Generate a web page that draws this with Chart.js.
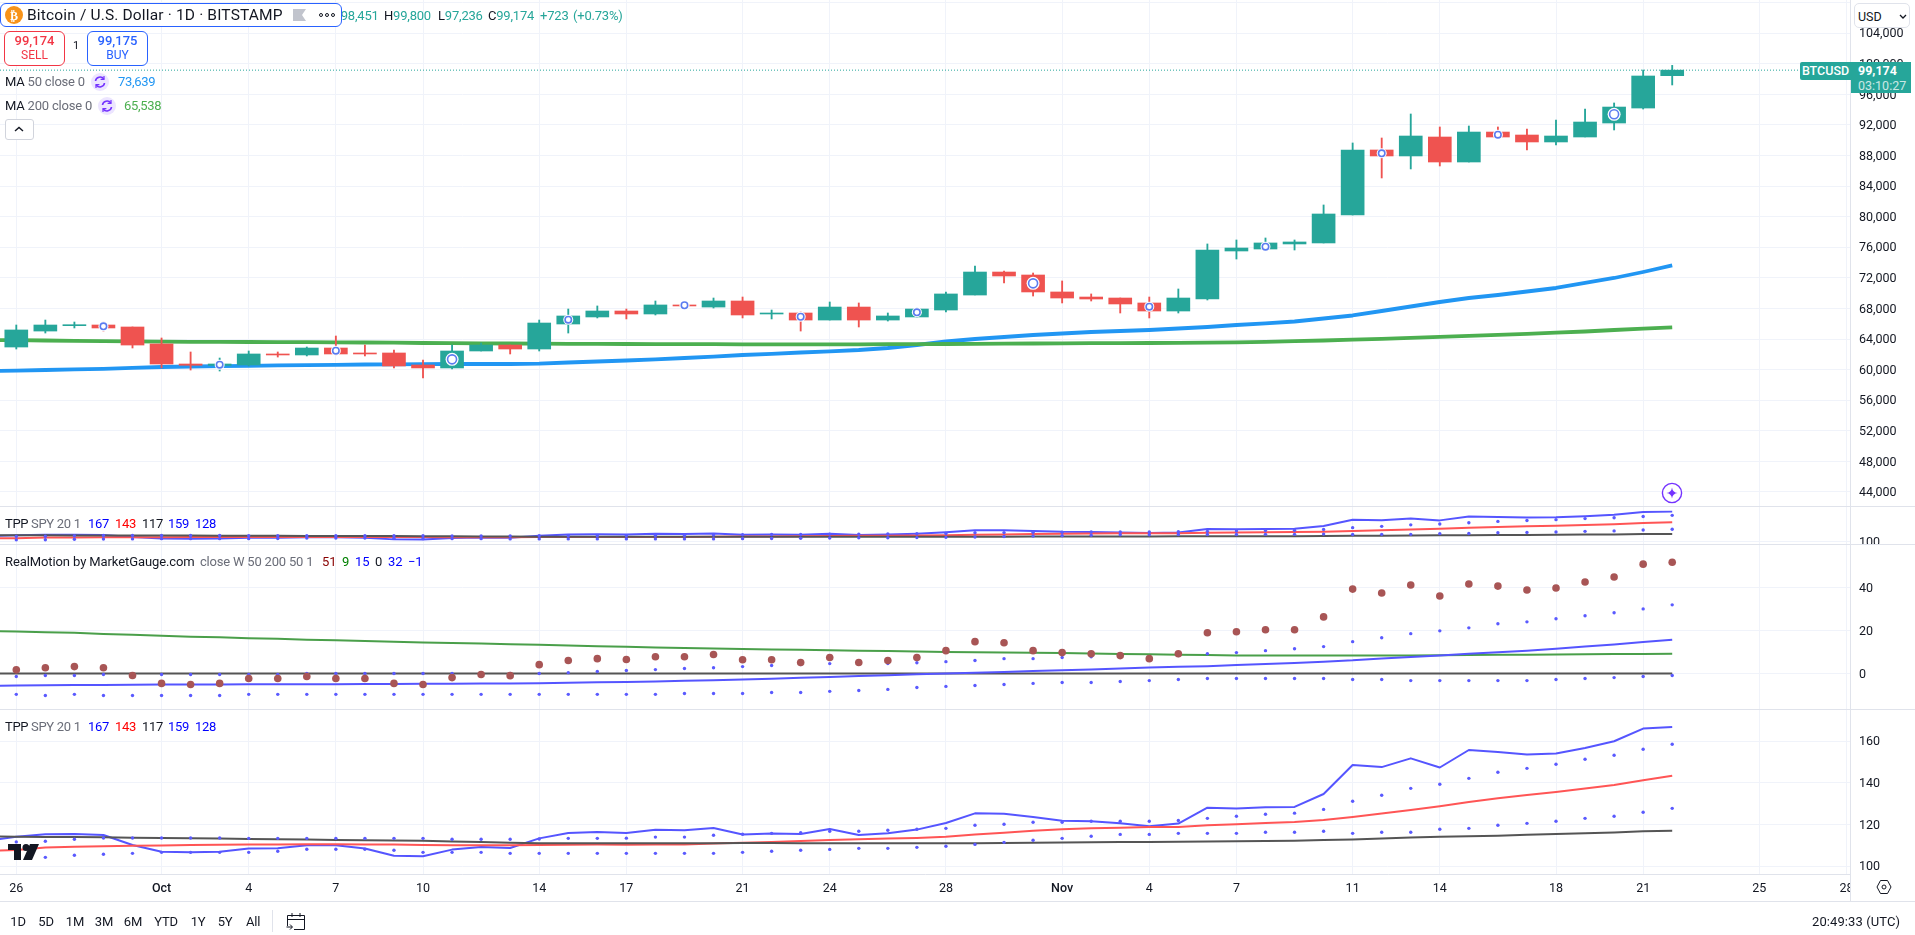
<!DOCTYPE html>
<html>
<head>
<meta charset="utf-8">
<title>BTCUSD</title>
<script src="https://cdn.jsdelivr.net/npm/chart.js@4"></script>
<style>
  html, body { margin: 0; padding: 0; background: #fff; overflow: hidden; }
  body { width: 1915px; height: 935px; position: relative; font: 13px Roboto, sans-serif; color: #131722; }
  canvas { position: absolute; left: 0; }
  .abs { position: absolute; white-space: nowrap; }
  .sep { position: absolute; left: 0; width: 1915px; height: 1px; background: #e0e3eb; }
  .grey { color: #6a6d78; }
  .teal { color: #26a69a; }
  .leg { position: absolute; white-space: nowrap; line-height: 16px; letter-spacing: -.3px; }
  .leg span { position: absolute; top: 0; }
  .ohlc { position: absolute; top: 8px; line-height: 16px; letter-spacing: -.2px; white-space: nowrap; }
  .range span { position: absolute; top: 0; transform: translateX(-50%); }
</style>
</head>
<body>
<canvas id="pricePane" width="1915" height="506" style="top:0"></canvas>
<canvas id="tppSmallPane" width="1915" height="37" style="top:507px"></canvas>
<canvas id="motionPane" width="1915" height="164" style="top:545px"></canvas>
<canvas id="tppPane" width="1915" height="191" style="top:710px"></canvas>

<div class="sep" style="top:506px"></div>
<div class="sep" style="top:544px"></div>
<div class="sep" style="top:709px"></div>
<div class="sep" style="top:901px"></div>

<!-- symbol header -->
<div class="ohlc" style="left:332px">O<span class="teal">98,451</span></div>
<div class="ohlc" style="left:384px">H<span class="teal">99,800</span></div>
<div class="ohlc" style="left:438px">L<span class="teal">97,236</span></div>
<div class="ohlc" style="left:488px">C<span class="teal">99,174</span></div>
<div class="ohlc teal" style="left:540px">+723</div>
<div class="ohlc teal" style="left:573px">(+0.73%)</div>
<div class="abs" style="left:0;top:3px;width:340px;height:22px;border:1px solid #2962ff;border-radius:6px;background:#fff"></div>
<svg class="abs" style="left:5px;top:6px" width="18" height="18"><circle cx="9" cy="9" r="9" fill="#f7931a"/><text x="9" y="13.5" text-anchor="middle" fill="#fff" font-size="12" font-weight="700" font-family="DejaVu Sans">₿</text></svg>
<div class="abs" style="left:27px;top:5px;font-size:15.5px;line-height:20px;letter-spacing:.16px">Bitcoin / U.S. Dollar · 1D · BITSTAMP</div>
<svg class="abs" style="left:293px;top:9px" width="13" height="12"><path d="M0 0H13L9 6L13 12H0Z" fill="#c1c4cd"/></svg>
<svg class="abs" style="left:318px;top:12px" width="18" height="6" fill="none" stroke="#131722"><circle cx="3" cy="3" r="1.5"/><circle cx="9" cy="3" r="1.5"/><circle cx="15" cy="3" r="1.5"/></svg>

<div class="abs" style="left:4px;top:31px;width:59px;height:32px;border:1px solid #f23645;border-radius:6px;background:#fff;color:#f23645;text-align:center;line-height:15px;padding-top:1px">
  <div style="font-weight:500">99,174</div><div style="font-size:12px">SELL</div>
</div>
<div class="abs" style="left:73px;top:39px;font-size:11px">1</div>
<div class="abs" style="left:87px;top:31px;width:59px;height:32px;border:1px solid #2962ff;border-radius:6px;background:#fff;color:#2962ff;text-align:center;line-height:15px;padding-top:1px">
  <div style="font-weight:500">99,175</div><div style="font-size:12px">BUY</div>
</div>

<!-- indicator rows -->
<div class="abs" style="left:5px;top:74px;line-height:16px;letter-spacing:-.2px">MA <span class="grey">50 close 0</span></div>
<svg class="abs" style="left:91px;top:73px" width="18" height="18" fill="none" stroke="#7433ff" stroke-width="1.6"><circle cx="9" cy="9" r="9" fill="#ece5ff" stroke="none"/><path d="M4.5 8a4.6 4.6 0 0 1 8.3-2M13.5 10a4.6 4.6 0 0 1-8.3 2"/><path d="M13 3v3.4H9.6M5 15v-3.4H8.4" stroke-width="1.2"/></svg>
<div class="abs" style="left:118px;top:74px;line-height:16px;letter-spacing:-.3px;color:#2196f3">73,639</div>
<div class="abs" style="left:5px;top:98px;line-height:16px;letter-spacing:-.2px">MA <span class="grey">200 close 0</span></div>
<svg class="abs" style="left:98px;top:97px" width="18" height="18" fill="none" stroke="#7433ff" stroke-width="1.6"><circle cx="9" cy="9" r="9" fill="#ece5ff" stroke="none"/><path d="M4.5 8a4.6 4.6 0 0 1 8.3-2M13.5 10a4.6 4.6 0 0 1-8.3 2"/><path d="M13 3v3.4H9.6M5 15v-3.4H8.4" stroke-width="1.2"/></svg>
<div class="abs" style="left:124px;top:98px;line-height:16px;letter-spacing:-.3px;color:#4caf50">65,538</div>
<div class="abs" style="left:5px;top:119px;width:27px;height:19px;border:1px solid #d1d4dc;border-radius:3px;background:#fff"></div>
<svg class="abs" style="left:14px;top:126px" width="10" height="6" fill="none" stroke="#131722" stroke-width="1.4"><path d="M1 5L5 1.5L9 5"/></svg>

<!-- right axis overlays -->
<div class="abs" style="left:1851px;top:0;width:64px;height:28px;background:#fff"></div>
<div class="abs" style="left:1854px;top:3px;width:56px;height:25px;border:1px solid #e0e3eb;border-radius:5px;background:#fff;line-height:25px;padding-left:3px;box-sizing:border-box;font-size:12.5px">USD</div>
<svg class="abs" style="left:1899px;top:14px" width="8" height="5" fill="none" stroke="#131722" stroke-width="1.3"><path d="M1 1L4 4L7 1"/></svg>
<div class="abs" style="left:1800px;top:62px;width:51px;height:18px;background:#26a69a;color:#fff;text-align:center;line-height:18px;font-size:12.5px;font-weight:500;border-radius:2px 0 0 2px">BTCUSD</div>
<div class="abs" style="left:1851px;top:62px;width:60px;height:31px;background:#26a69a;color:#fff;text-align:left;padding-left:7px;box-sizing:border-box;line-height:15px;padding-top:1px;font-size:12.5px">
  <div style="font-weight:700">99,174</div><div style="opacity:.75">03:10:27</div>
</div>
<svg class="abs" style="left:1661px;top:482px" width="22" height="22"><circle cx="11" cy="11" r="9.6" fill="#fff" stroke="#7433ff" stroke-width="1.4"/><path d="M11 5.5Q11.6 10.4 16.5 11Q11.6 11.6 11 16.5Q10.4 11.6 5.5 11Q10.4 10.4 11 5.5Z" fill="#7433ff"/></svg>

<!-- pane legends -->
<div class="leg" style="left:5px;top:516px">TPP
  <span class="grey" style="left:26px">SPY 20 1</span>
  <span style="left:83px;color:#0000ff">167</span><span style="left:110px;color:#ff0000">143</span><span style="left:137px">117</span><span style="left:163px;color:#0000ff">159</span><span style="left:190px;color:#0000ff">128</span>
</div>
<div class="leg" style="left:5px;top:554px;letter-spacing:-.1px">RealMotion by MarketGauge.com
  <span class="grey" style="left:195px;letter-spacing:-.2px">close W 50 200 50 1</span>
  <span style="left:317px;color:#880000">51</span><span style="left:337px;color:#008000">9</span><span style="left:350px;color:#0000ff">15</span><span style="left:370px">0</span><span style="left:383px;color:#0000ff">32</span><span style="left:403px;color:#0000ff">−1</span>
</div>
<div class="leg" style="left:5px;top:719px">TPP
  <span class="grey" style="left:26px">SPY 20 1</span>
  <span style="left:83px;color:#0000ff">167</span><span style="left:110px;color:#ff0000">143</span><span style="left:137px">117</span><span style="left:163px;color:#0000ff">159</span><span style="left:190px;color:#0000ff">128</span>
</div>
<svg class="abs" style="left:8px;top:844px" width="31" height="16" fill="#131722"><path d="M0 0H13V16H6V6H0Z"/><circle cx="18" cy="3.5" r="3.5"/><path d="M22 0H31L24 16H15Z"/></svg>

<!-- corner of the time axis, hides the clipped label like the reference -->
<div class="abs" style="left:1851px;top:874px;width:64px;height:27px;background:#fff"></div>
<div class="abs" style="left:1850px;top:874px;width:1px;height:27px;background:#e0e3eb"></div>
<svg class="abs" style="left:1876px;top:879px" width="16" height="16" fill="none" stroke="#131722"><path d="M4.5 1.5H11.5L15 8L11.5 14.5H4.5L1 8Z"/><circle cx="8" cy="8" r="2"/></svg>

<!-- bottom bar -->
<div class="range abs" style="left:0;top:914px;width:300px;height:16px;line-height:16px;letter-spacing:-.2px">
  <span style="left:18px">1D</span><span style="left:46px">5D</span><span style="left:75px">1M</span><span style="left:104px">3M</span><span style="left:133px">6M</span><span style="left:166px">YTD</span><span style="left:198px">1Y</span><span style="left:225px">5Y</span><span style="left:253px">All</span>
</div>
<div class="abs" style="left:272px;top:910px;width:1px;height:22px;background:#e0e3eb"></div>
<svg class="abs" style="left:286px;top:912px" width="20" height="19" fill="none" stroke="#131722"><path d="M1.5 14V3.5H18.5V17.5H8M1.5 7.5H18.5M6 1V5M14 1V5"/><path d="M0.5 15H6M4 12.5L6.5 15L4 17.5"/></svg>
<div class="abs" style="left:1812px;top:914px;line-height:16px;letter-spacing:.1px">20:49:33 (UTC)</div>

<script>
// bars run from Sep 26 (index 0) to Nov 22 (index 57)
const opens  = [62960,65050,65750,65840,65580,63360,60740,60550,60610,62050,61920,62830,62180,62180,60610,60220,62440,63220,62700,65970,66890,67670,67280,68460,68190,68980,67280,67410,66490,68190,66490,66890,67800,69760,72770,72380,70160,69500,69370,68720,67670,69240,75520,75780,76440,76570,80230,88730,87950,90430,87160,91080,90690,89780,90430,92260,94220,98451];
const highs  = [65840,66490,66230,66230,65580,64140,62310,61520,62440,62310,62960,64400,63220,62570,61260,63220,63480,63220,66490,67930,68330,67930,68980,68720,69370,69500,67800,67540,68850,68720,67410,68060,70160,73560,72900,72640,71600,69900,69370,69500,70550,76440,76960,77220,76960,81540,89650,90300,93440,91740,91870,91740,91480,92650,94090,94880,99190,99800];
const lows   = [62700,64790,65450,65050,62830,60220,59950,59820,60480,61650,61790,61920,61790,60220,58910,60090,62440,62050,62440,64790,66760,66630,67150,68060,68060,66760,66630,65050,66490,65580,66360,66890,67540,69760,71330,69630,68720,68980,67410,66760,67410,69110,74470,75650,75650,76570,80230,85070,86250,86640,87160,90300,88730,89380,90430,91350,94090,97236];
const closes = [65190,65840,65880,65450,63220,60740,60570,60740,62050,61920,62830,62050,62050,60480,60220,62440,63220,62700,66100,67020,67670,67280,68460,68330,68980,67150,67410,66490,68190,66490,67020,67930,69900,72770,72250,70160,69370,69240,68590,67670,69370,75650,75910,76570,76700,80360,88730,87950,90560,87160,91080,90430,89780,90560,92390,94350,98410,99174];

// line series start one bar earlier (index -1), off the left edge
const ma50  = [59797,59875,59954,60032,60111,60241,60346,60412,60451,60503,60555,60595,60634,60673,60699,60725,60739,60739,60739,60778,60935,61066,61197,61354,61524,61707,61916,62073,62243,62400,62570,62832,63224,63682,64009,64270,64532,64729,64924,65055,65186,65382,65578,65840,66040,66298,66690,67083,67671,68260,68848,69372,69764,70222,70680,71334,71988,72772,73639];
const ma200 = [63878,63852,63813,63773,63734,63695,63656,63643,63630,63617,63604,63590,63577,63551,63525,63486,63460,63434,63421,63394,63381,63368,63355,63342,63329,63329,63316,63316,63316,63316,63316,63329,63342,63355,63381,63394,63421,63447,63460,63473,63486,63499,63525,63577,63643,63721,63813,63918,64035,64166,64297,64428,64559,64690,64847,64990,65186,65356,65538];

const tppHigh = [112.2,114.2,115.4,115.5,115.0,110.2,107.0,106.7,107.0,108.5,108.6,110.1,110.1,108.5,105.1,104.8,108.0,109.3,108.8,113.4,116.0,116.5,116.0,117.5,117.3,118.4,115.3,115.7,115.5,117.9,115.0,115.8,117.6,120.8,125.4,125.2,123.7,121.9,121.6,120.6,119.2,120.5,128.1,127.7,128.3,128.5,134.7,148.6,147.6,151.8,147.4,155.8,154.9,153.6,154.1,156.8,160,166.1,166.9];
const tppMid  = [107.4,107.8,109,109.4,109.6,109.9,110,110.2,110.3,110.4,110.5,110.6,110.6,110.5,110.4,110.2,110.1,110.1,110.1,110.2,110.3,110.4,110.3,110.4,110.5,110.9,111.3,111.7,112.1,112.6,113,113.3,113.6,114.2,115.2,116.1,117,117.8,118.2,118.5,118.9,118.9,119.7,120.2,120.8,121.3,122.2,123.7,125.3,127,128.8,130.9,132.6,134.2,135.7,137.3,139,141.3,143.5];
const tppLow  = [114.3,114.2,114.1,114,113.9,113.7,113.6,113.5,113.3,113.1,113,112.8,112.6,112.5,112.4,112.2,111.9,111.6,111.3,111,111,111,111,111,111,111.1,111.2,111.2,111.1,111.1,111.1,111.1,111.1,111.1,111.1,111.2,111.3,111.4,111.5,111.6,111.7,111.8,111.9,112,112.1,112.2,112.6,112.9,113.3,113.8,114.2,114.4,114.7,115.1,115.5,115.8,116.2,116.8,117];
// dotted bands start at index 0
const tppDotsUp = [111.7,112,113,113.6,113.6,113.6,113.6,113.6,113.4,113.4,113.4,113.4,113.4,113.4,113.4,113,113,113,113.1,113.4,113.4,113.5,114,114,114.9,115.4,115.8,116.1,116.8,116.8,117.3,117.8,118.2,119.7,120.2,121.1,121.1,121.6,121.6,121.6,122,123,124,125,125.5,127.3,131.2,134.1,137.4,139.4,142.2,145.1,147,149,151.4,153.3,156.2,158.6];
const tppDotsDn = [104,104.3,105.3,105.8,106.2,106.7,106.7,106.7,106.7,107.2,108.2,108.2,108.2,107.7,106.7,106.7,106.7,106.2,106.2,106.2,106.2,106.2,106.2,106.2,106.2,106.7,107.2,107.7,108.1,108.6,108.6,109.1,109.6,110.5,111.5,112.5,113.4,114.4,115.3,115.3,115.8,115.8,115.8,116.3,116.3,116.8,115.8,116.3,116.3,117.8,118.2,119.7,120.6,121.6,123,124,125.9,127.8];

const rmGreen = [19.7,19.5,19.2,18.9,18.4,18,17.5,17.1,16.8,16.4,16.1,15.7,15.4,15.1,14.7,14.4,14.2,13.9,13.6,13.4,13,12.7,12.4,12.1,11.9,11.6,11.4,11.2,11,10.8,10.6,10.4,10.2,10,9.9,9.8,9.6,9.5,9.3,9.1,8.9,8.7,8.6,8.4,8.3,8.4,8.3,8.3,8.3,8.4,8.5,8.6,8.7,8.7,8.8,8.9,9,9.1,9.2];
const rmBlue  = [-5.7,-5.6,-5.5,-5.4,-5.3,-5.2,-5.1,-5.1,-5.1,-5,-5,-5,-5,-4.9,-4.9,-4.8,-4.8,-4.7,-4.6,-4.5,-4.3,-4.1,-3.9,-3.7,-3.4,-3.1,-2.8,-2.4,-2,-1.6,-1.2,-0.8,-0.4,0,0.3,0.7,1.1,1.5,1.9,2.3,2.8,3.1,3.4,3.9,4.4,4.9,5.5,6.1,7,7.7,8.4,9.2,9.9,10.6,11.5,12.5,13.5,14.6,15.7];
const rmMotion  = [1.7,2.7,3.2,2.7,-0.95,-4.6,-5.1,-4.6,-2.3,-2.3,-1.4,-2.3,-2.3,-4.6,-5.1,-1.9,-0.5,-1,4.1,6,6.9,6.5,7.8,7.8,8.8,6.4,6.4,5.1,7.4,5.1,6,7.4,10.6,14.8,14.3,10.6,9.7,9.2,8.3,6.9,9.2,18.9,19.4,20.3,20.3,26.3,39.2,37.4,41.1,36,41.6,40.6,38.8,39.7,42.5,44.8,50.8,51.7];
const rmDotsUp  = [-1.4,-0.95,-0.95,-0.5,-0.5,-0.5,-0.5,-0.5,-0.5,-0.5,0,0,0,0,0,0,0,0,0,0.4,0.9,1.4,1.8,2.3,2.7,3.2,3.7,4.1,4.6,4.6,4.6,5,5.5,6,6.9,6.9,7.4,7.8,7.8,7.8,8.3,9.2,9.7,10.6,11.5,12.5,14.8,16.6,18.5,19.8,21.2,23.1,24,25.4,26.8,28.2,30,31.9];
const rmDotsDn  = [-9.7,-10.2,-9.7,-10.2,-10.2,-10.2,-10.2,-10.2,-9.7,-9.7,-9.7,-9.7,-9.7,-9.7,-9.7,-9.7,-9.7,-9.7,-9.7,-9.7,-9.7,-9.7,-9.7,-9.3,-9.3,-9.3,-8.8,-8.8,-8.3,-7.9,-7.4,-6.5,-6,-5.6,-5.1,-4.6,-4.2,-4.2,-3.7,-3.3,-2.8,-2.3,-2.3,-2.3,-2.3,-2.3,-2.8,-2.8,-3.3,-3.3,-3.3,-3.3,-3.3,-2.8,-2.3,-1.9,-1.4,-0.95];
const rmZero = 0;

// circle markers sitting on the candles
const markerDays   = [3,7,11,15,19,23,27,31,35,39,43,47,51,55];
const markerPrices = [65670,60650,62480,61350,66530,68420,66920,67500,71290,68240,76090,88300,90730,93400];
const bigMarkers   = [15,35,55];

const lastClose = 99174;

const dateTicks  = [0,5,8,11,14,18,21,25,28,32,36,39,42,46,49,53,56,60,63];
const dateLabels = ['26','Oct','4','7','10','14','17','21','24','28','Nov','4','7','11','14','18','21','25','28'];
const priceTicks  = [44000,48000,52000,56000,60000,64000,68000,72000,76000,80000,84000,88000,92000,96000,100000,104000,108000];
const motionTicks = [0,20,40];
const tppTicks    = [100,120,140,160];
const tppSmallTicks = [100];

// ---- colours
const upColor = '#26a69a', downColor = '#ef5350';
const gridColor = '#f0f3fa', borderColor = '#e0e3eb';
const dotBlue = '#5a5aff', lineBlue = '#5555ff';
const font = { family: 'Roboto, sans-serif', size: 12.5 };

Chart.defaults.animation = false;
Chart.defaults.font = font;
Chart.defaults.color = '#131722';

// x position of the left edge and of the price axis, in bars
const xMin = -0.561, xMax = 63.12;

const days = (vals, first) => vals.map((v, i) => ({ x: i + first, y: v }));

function lineSet(vals, color, width, first = -1) {
  return { type: 'line', data: days(vals, first), borderColor: color, borderWidth: width,
           pointRadius: 0, tension: 0, borderJoinStyle: 'round' };
}
function dotSet(vals, color, radius) {
  return { type: 'line', data: days(vals, 0), showLine: false, pointRadius: radius,
           pointBackgroundColor: color, pointBorderWidth: 0 };
}
function tppSets() {
  return [
    dotSet(tppDotsUp, dotBlue, 1.7),
    dotSet(tppDotsDn, dotBlue, 1.7),
    lineSet(tppLow, '#555555', 2),
    lineSet(tppMid, '#ff5555', 2),
    lineSet(tppHigh, lineBlue, 2)
  ];
}

function makePane(id, yMin, yMax, yTicks, datasets, withTime) {
  return new Chart(document.getElementById(id), {
    type: 'bar',
    data: { datasets },
    options: {
      responsive: false,
      events: [],
      layout: { padding: 0, autoPadding: false },
      plugins: { legend: { display: false }, tooltip: { enabled: false } },
      datasets: { bar: { grouped: false } },
      scales: {
        x: {
          type: 'linear', min: xMin, max: xMax, offset: false,
          grid: { color: gridColor, offset: false, drawTicks: false },
          border: { display: withTime, color: borderColor },
          ticks: {
            display: withTime, autoSkip: false, maxRotation: 0, padding: 7,
            callback: v => dateLabels[dateTicks.indexOf(v)],
            font: ctx => ({ ...font, weight: (dateLabels[ctx.index] === 'Oct' || dateLabels[ctx.index] === 'Nov') ? '500' : '400' })
          },
          afterBuildTicks: s => { s.ticks = dateTicks.map(value => ({ value })); },
          afterFit: s => { s.height = withTime ? 27 : 0; s.paddingLeft = s.paddingRight = 0; }
        },
        y: {
          position: 'right', min: yMin, max: yMax,
          grid: { color: gridColor, drawTicks: false },
          border: { color: borderColor },
          ticks: { autoSkip: false, padding: 9, labelOffset: 1, callback: v => v.toLocaleString('en-US') },
          afterBuildTicks: s => { s.ticks = yTicks.map(value => ({ value })); },
          afterFit: s => { s.width = 65; s.paddingTop = s.paddingBottom = 0; }
        }
      }
    }
  });
}

// price pane: candles through floating bars
const candleColors = closes.map((c, i) => c >= opens[i] ? upColor : downColor);
const bodyData = closes.map((c, i) => ({ x: i, y: [opens[i], c] }));
const wickData = closes.map((c, i) => ({ x: i, y: [lows[i], highs[i]] }));

makePane('pricePane', 42165, 108350, priceTicks, [
  { type: 'line', data: markerDays.map((d, i) => ({ x: d, y: markerPrices[i] })), showLine: false,
    pointRadius: markerDays.map(d => bigMarkers.includes(d) ? 4.5 : 3.2),
    pointBackgroundColor: '#ffffff', pointBorderColor: '#5b7cf0', pointBorderWidth: 1.6 },
  { type: 'line', data: markerDays.map((d, i) => ({ x: d, y: markerPrices[i] })), showLine: false,
    pointRadius: markerDays.map(d => bigMarkers.includes(d) ? 6.5 : 5),
    pointBackgroundColor: '#ffffff', pointBorderWidth: 0 },
  { type: 'bar', data: bodyData, backgroundColor: candleColors, barThickness: 23 },
  { type: 'bar', data: wickData, backgroundColor: candleColors, barThickness: 1.2 },
  lineSet(ma200, '#4caf50', 3.8),
  lineSet(ma50, '#2196f3', 3.8),
  { type: 'line', data: [{ x: xMin, y: lastClose }, { x: xMax, y: lastClose }], borderColor: upColor,
    borderWidth: 1, borderDash: [1, 2], pointRadius: 0 }
], false);

makePane('tppSmallPane', 94.8, 177.2, tppSmallTicks, tppSets(), false);

makePane('motionPane', -16.5, 59.7, motionTicks, [
  dotSet(rmMotion, '#a85555', 3.8),
  dotSet(rmDotsUp, dotBlue, 1.7),
  dotSet(rmDotsDn, dotBlue, 1.7),
  lineSet(rmBlue, lineBlue, 2),
  lineSet(rmGreen, '#4a9f4a', 2),
  lineSet(rmBlue.map(() => rmZero), '#555555', 2)
], false);

makePane('tppPane', 96.3, 175, tppTicks, tppSets(), true);
</script>
</body>
</html>
